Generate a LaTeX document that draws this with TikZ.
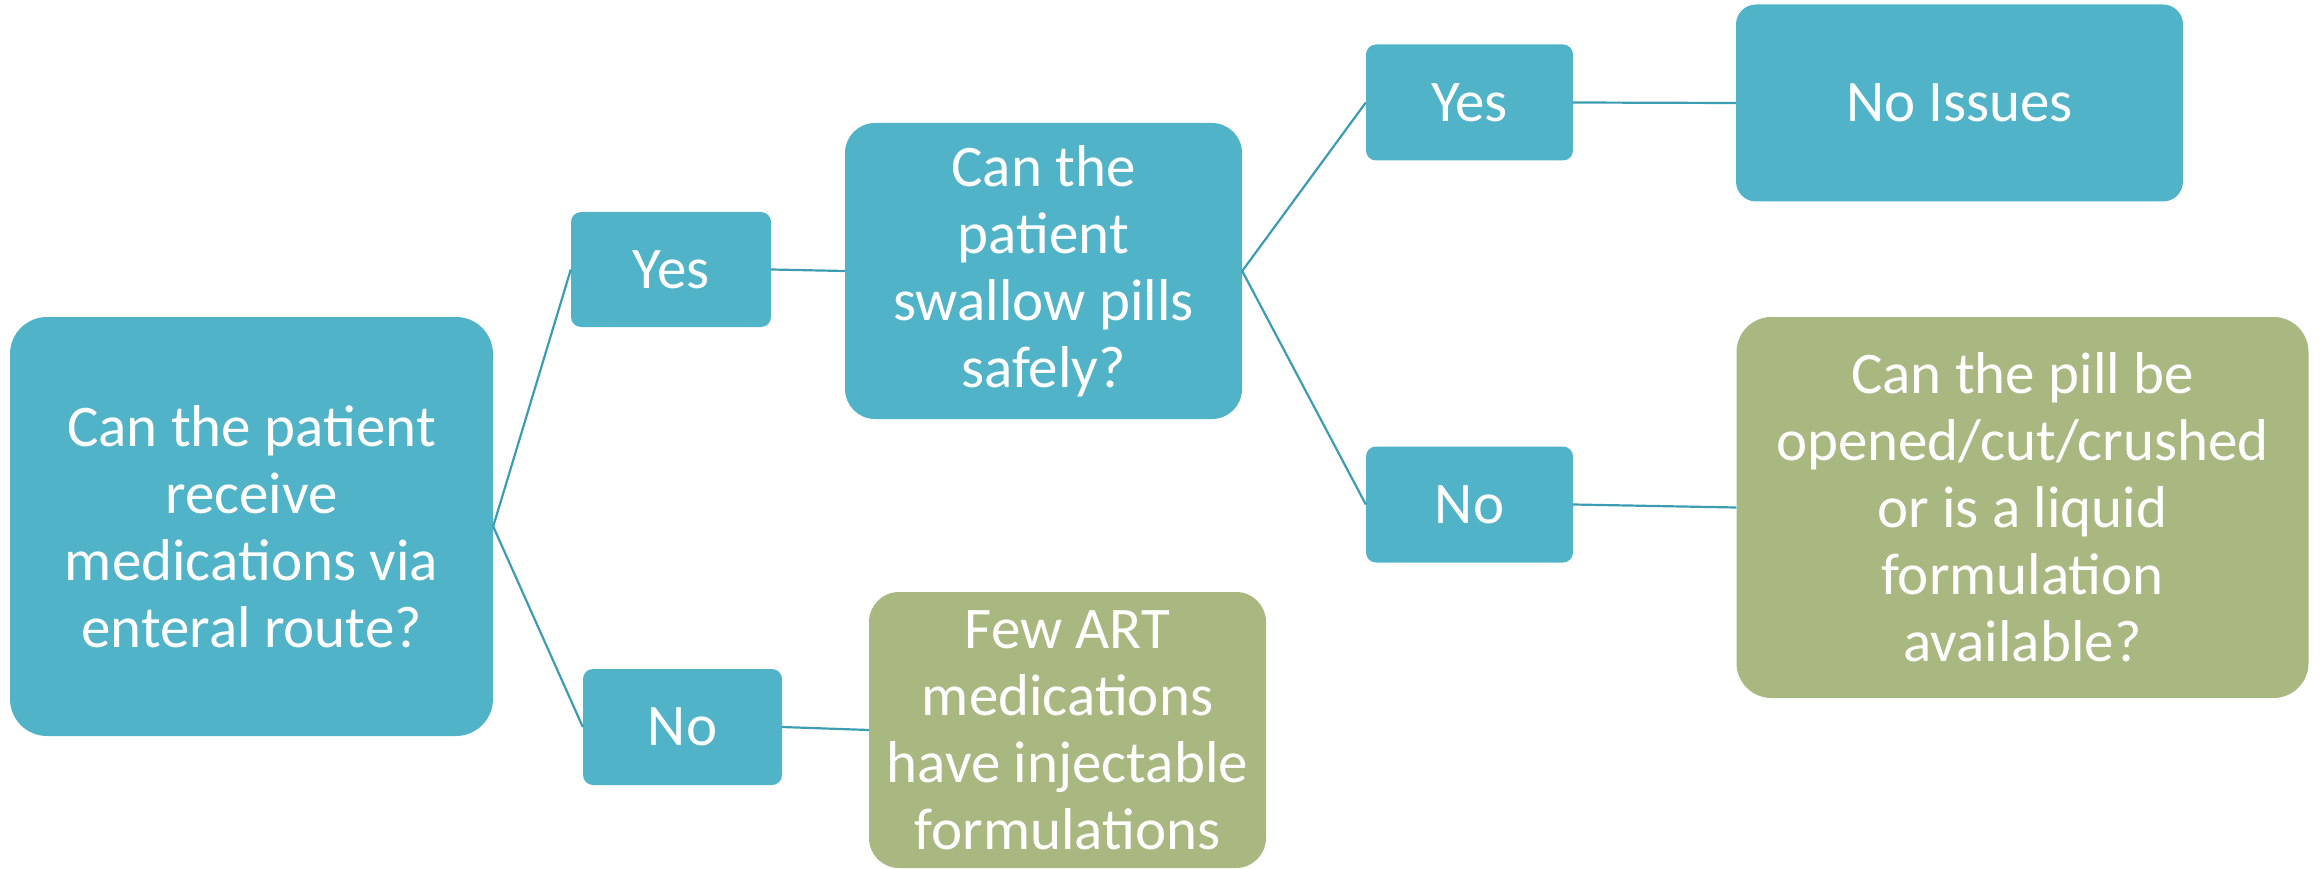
\documentclass[tikz,border=0pt]{standalone}
\usepackage{fontspec}
\setmainfont{Carlito}
\definecolor{boxblue}{HTML}{50B3C8}
\definecolor{boxgreen}{HTML}{A8B880}
\definecolor{linkcol}{HTML}{3C9DB2}
\begin{document}
\begin{tikzpicture}[x=1pt,y=-1pt,
  box/.style={rectangle, draw=none, text=white, align=center, inner sep=0pt,
    font=\fontsize{59}{67}\selectfont},
  bluebox/.style={box, fill=boxblue},
  greenbox/.style={box, fill=boxgreen},
  link/.style={draw=linkcol, line width=2.2pt}]
\useasboundingbox (0,0) rectangle (2321,869);
\node[bluebox, minimum width=483, minimum height=419, rounded corners=37] (main) at (251.5,526.5)
  {Can the patient\\receive\\medications via\\enteral route?};
\node[bluebox, minimum width=200, minimum height=115, rounded corners=10] (yes1) at (671,269.5) {Yes};
\node[bluebox, minimum width=199, minimum height=116, rounded corners=10] (no1) at (682.5,727) {No};
\node[bluebox, minimum width=397, minimum height=296, rounded corners=30] (swallow) at (1043.5,271)
  {Can the\\patient\\swallow pills\\safely?};
\node[greenbox, minimum width=397, minimum height=276, rounded corners=30] (few) at (1067.5,730)
  {Few ART\\medications\\have injectable\\formulations};
\node[bluebox, minimum width=207, minimum height=116, rounded corners=10] (yes2) at (1469.5,102.5) {Yes};
\node[bluebox, minimum width=207, minimum height=116, rounded corners=10] (no2) at (1469.5,504.5) {No};
\node[bluebox, minimum width=447, minimum height=197, rounded corners=20] (noissues) at (1959.5,103) {No Issues};
\node[greenbox, minimum width=572, minimum height=381, rounded corners=35] (canpill) at (2022.5,507.5)
  {Can the pill be\\opened/cut/crushed\\or is a liquid\\formulation\\available?};
\draw[link] (main.east) -- (yes1.west);
\draw[link] (main.east) -- (no1.west);
\draw[link] (yes1.east) -- (swallow.west);
\draw[link] (no1.east) -- (few.west);
\draw[link] (swallow.east) -- (yes2.west);
\draw[link] (swallow.east) -- (no2.west);
\draw[link] (yes2.east) -- (noissues.west);
\draw[link] (no2.east) -- (canpill.west);
\end{tikzpicture}
\end{document}
